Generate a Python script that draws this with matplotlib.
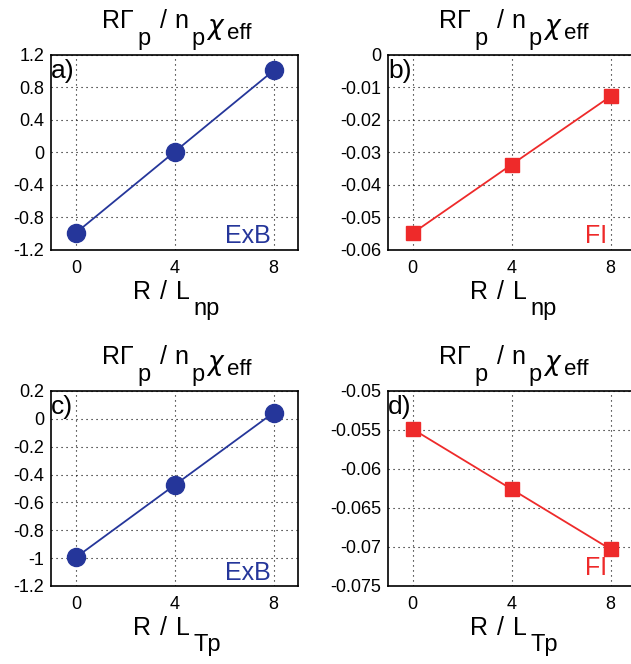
import matplotlib
matplotlib.use("Agg")
import matplotlib.pyplot as plt
from matplotlib.transforms import offset_copy

plt.rcParams['font.family'] = ['Liberation Sans', 'DejaVu Sans']

x = [0, 4, 8]
exb_np = [-0.99, 0.01, 1.01]
fi_np = [-0.0548, -0.0337, -0.0127]
exb_tp = [-0.995, -0.475, 0.045]
fi_tp = [-0.0549, -0.0626, -0.0703]

blue = "#25369a"
red = "#ee2a2a"

# (text, dx px from axes centre, baseline px relative to axes top, size)
title_parts = [("RΓ", -73, 27, 18), ("p", -37, 10, 17), ("/", -15, 27, 18),
               ("n", 0, 27, 18), ("p", 17, 10, 17), (r"$\chi$", 31, 21, 19), ("eff", 52, 16, 16)]

def xlabel_parts(sub):
  # baseline px relative to axes bottom
  return [("R", -42, -49, 18), ("/", -15, -49, 18), ("L", 1, -49, 18), (sub, 19, -65, 17)]

panels = [
  # left, bottom, data, color, marker, ms, ylim, yticks, labels, tag, sub, name, name_y
  (0.081, 0.6235, exb_np, blue, "o", 13, (-1.2, 1.2),
   [-1.2, -0.8, -0.4, 0, 0.4, 0.8, 1.2], ["-1.2", "-0.8", "-0.4", "0", "0.4", "0.8", "1.2"],
   "a)", "np", "ExB", 0.036),
  (0.615, 0.6235, fi_np, red, "s", 10, (-0.06, 0),
   [-0.06, -0.05, -0.04, -0.03, -0.02, -0.01, 0], ["-0.06", "-0.05", "-0.04", "-0.03", "-0.02", "-0.01", "0"],
   "b)", "np", "FI", 0.036),
  (0.081, 0.1175, exb_tp, blue, "o", 13, (-1.2, 0.2),
   [-1.2, -1, -0.8, -0.6, -0.4, -0.2, 0, 0.2], ["-1.2", "-1", "-0.8", "-0.6", "-0.4", "-0.2", "0", "0.2"],
   "c)", "Tp", "ExB", 0.031),
  (0.615, 0.1175, fi_tp, red, "s", 10, (-0.075, -0.05),
   [-0.075, -0.07, -0.065, -0.06, -0.055, -0.05], ["-0.075", "-0.07", "-0.065", "-0.06", "-0.055", "-0.05"],
   "d)", "Tp", "FI", 0.056),
]

fig = plt.figure(figsize=(6.31, 6.64), dpi=100)

for left, bottom, y, col, mk, ms, ylim, yt, ytl, tag, sub, name, name_y in panels:
  ax = fig.add_axes([left, bottom, 0.392, 0.2937])
  ax.plot(x, y, color=col, marker=mk, markersize=ms, linewidth=1.3)
  ax.set_xlim(-1, 9)
  ax.set_ylim(*ylim)
  ax.set_xticks(x)
  ax.set_yticks(yt)
  ax.set_yticklabels(ytl)
  ax.tick_params(labelsize=13, length=0)
  ax.tick_params(axis="y", pad=5)
  ax.tick_params(axis="x", pad=7)
  ax.grid(True, color="black", linestyle=(0, (1, 3.5)), linewidth=0.8)
  for s in ax.spines.values():
    s.set_linewidth(1.2)

  for txt, dx, dy, size in title_parts:
    tr = offset_copy(ax.transAxes, fig=fig, x=dx, y=dy, units="dots")
    ax.text(0.5, 1.0, txt, transform=tr, fontsize=size, ha="left", va="baseline", clip_on=False)
  for txt, dx, dy, size in xlabel_parts(sub):
    tr = offset_copy(ax.transAxes, fig=fig, x=dx, y=dy, units="dots")
    ax.text(0.5, 0.0, txt, transform=tr, fontsize=size, ha="left", va="baseline", clip_on=False)

  ax.text(0.0, 0.882, tag, transform=ax.transAxes, fontsize=19, va="baseline", ha="left")
  ax.text(0.886, name_y, name, transform=ax.transAxes, fontsize=18, va="baseline", ha="right", color=col)

fig.savefig("out.png", dpi=100)
